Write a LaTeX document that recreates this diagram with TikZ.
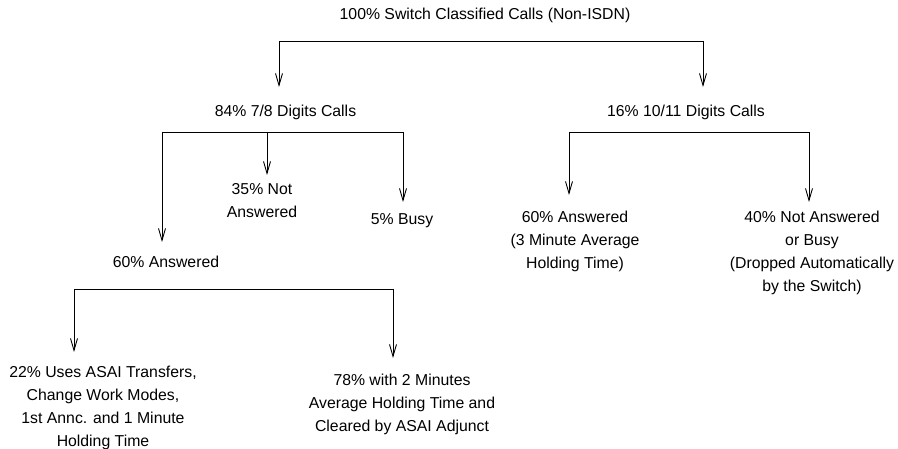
\documentclass[tikz,border=0pt]{standalone}
\usepackage{fontspec}
\setmainfont{Liberation Sans}
\usetikzlibrary{arrows.meta}
\begin{document}
\begin{tikzpicture}[x=1pt,y=-1pt,
  lbl/.style={anchor=base,align=center,inner sep=0pt,font=\fontsize{15.8}{23}\selectfont},
  bar/.style={line width=0.9pt},
  arr/.style={line width=0.9pt,-{Straight Barb[length=12pt,width=7pt,line width=0.9pt]}}]
\useasboundingbox (0,0) rectangle (898,449);
% nodes (anchor base = baseline of last line)
\node[lbl] (top) at (485,19.5) {100\% Switch Classified Calls (Non-ISDN)};
\node[lbl] (d78) at (285.5,116.5) {84\% 7/8 Digits Calls};
\node[lbl] (d1011) at (686,116.5) {16\% 10/11 Digits Calls};
\node[lbl] (nans) at (262,218) {35\% Not\\Answered};
\node[lbl] (busy) at (402,224.5) {5\% Busy};
\node[lbl] (ansl) at (166,267.5) {60\% Answered};
\node[lbl] (ansr) at (575,268.5) {60\% Answered\\(3 Minute Average\\Holding Time)};
\node[lbl] (nab) at (812,291.5) {40\% Not Answered\\or Busy\\(Dropped Automatically\\by the Switch)};
\node[lbl] (asai) at (103,446.5) {22\% Uses ASAI Transfers,\\Change Work Modes,\\1st Annc. and 1 Minute\\Holding Time};
\node[lbl] (clr) at (402,431.5) {78\% with 2 Minutes\\Average Holding Time and\\Cleared by ASAI Adjunct};
% coordinates
\coordinate (b1l) at (279,41); \coordinate (b1r) at (703,41);
\coordinate (t1l) at (279,87); \coordinate (t1r) at (703,87);
\coordinate (b2l) at (162,132); \coordinate (b2m) at (267,132); \coordinate (b2r) at (403,132);
\coordinate (t2l) at (162,242); \coordinate (t2m) at (267,175); \coordinate (t2r) at (403,202);
\coordinate (b3l) at (569,132); \coordinate (b3r) at (809,132);
\coordinate (t3l) at (569,195); \coordinate (t3r) at (809,202);
\coordinate (b4l) at (74,289); \coordinate (b4r) at (393,289);
\coordinate (t4l) at (74,352); \coordinate (t4r) at (393,358);
% connectors
\draw[bar] (b1l) -- (b1r);
\draw[arr] (b1l) -- (t1l);
\draw[arr] (b1r) -- (t1r);
\draw[bar] (b2l) -- (b2r);
\draw[arr] (b2l) -- (t2l);
\draw[arr] (b2m) -- (t2m);
\draw[arr] (b2r) -- (t2r);
\draw[bar] (b3l) -- (b3r);
\draw[arr] (b3l) -- (t3l);
\draw[arr] (b3r) -- (t3r);
\draw[bar] (b4l) -- (b4r);
\draw[arr] (b4l) -- (t4l);
\draw[arr] (b4r) -- (t4r);
\end{tikzpicture}
\end{document}
